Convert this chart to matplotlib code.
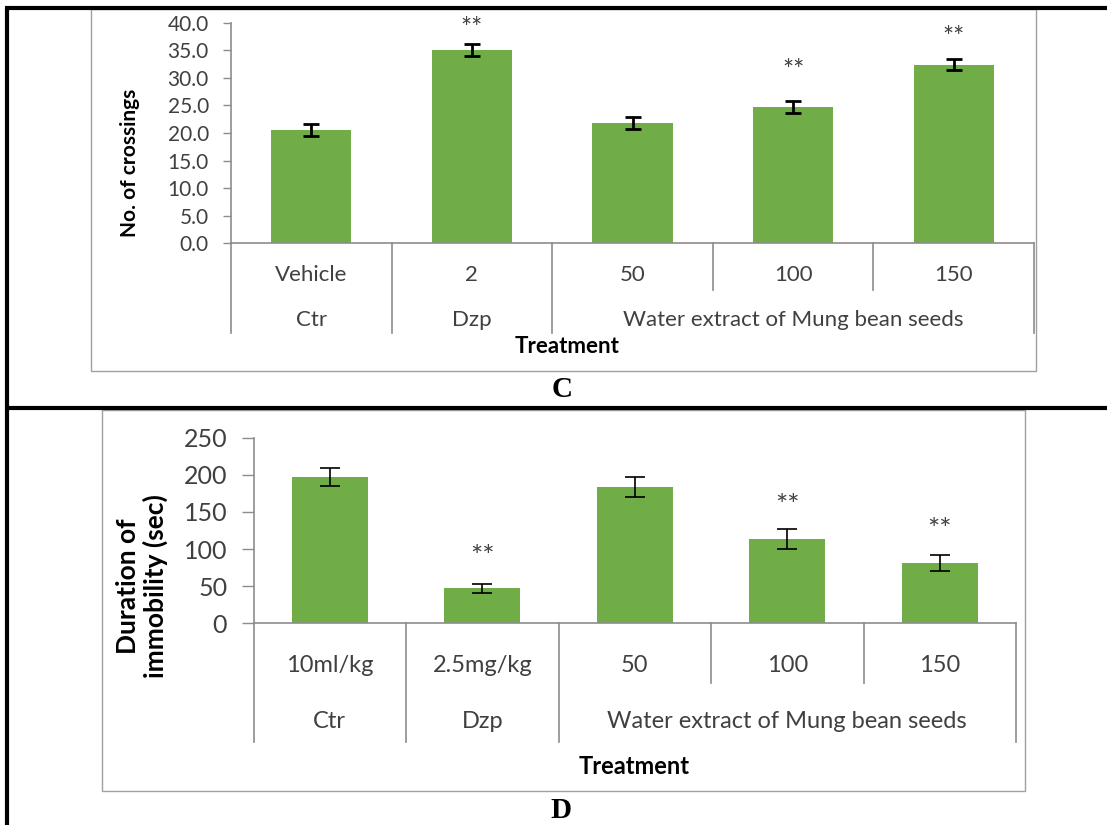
import matplotlib
matplotlib.use("Agg")
import matplotlib.pyplot as plt
from matplotlib.lines import Line2D
from matplotlib.patches import Rectangle

# data
doses_c = ["Vehicle", "2", "50", "100", "150"]
doses_d = ["10ml/kg", "2.5mg/kg", "50", "100", "150"]
groups = ["Ctr", "Dzp", "Water extract of Mung bean seeds"]
group_span = [(0, 0), (1, 1), (2, 4)]

crossings = [20.5, 35.0, 21.8, 24.7, 32.4]
crossings_err = [1.1, 1.1, 1.1, 1.1, 1.0]
immobility = [197.5, 47.1, 184.0, 113.0, 81.0]
immobility_err = [12.3, 6.0, 13.5, 13.5, 11.0]
stars = ["", "**", "", "**", "**"]

W, H = 1107, 825
GREEN = "#70AD47"
AXCOL = "#8C8C8C"
TXT = "#404040"
FONT = "Lato"

fig = plt.figure(figsize=(W / 100, H / 100), dpi=100)


def fx(x):
    return x / W


def fy(y):
    return 1 - y / H


def fig_line(x0, y0, x1, y1, color="black", lw=2.2):
    fig.add_artist(Line2D([fx(x0), fx(x1)], [fy(y0), fy(y1)], transform=fig.transFigure,
                          color=color, lw=lw, solid_capstyle="butt"))


def frame(x0, y0, x1, y1):
    fig.add_artist(Rectangle((fx(x0), fy(y1)), fx(x1) - fx(x0), fy(y0) - fy(y1),
                             transform=fig.transFigure, fill=False, ec="#A0A0A0", lw=1.0))


def panel(box, values, errs, ymax, ystep, fmt, doses, star_gap, rows, sizes, err_lw, err_cap):
    left, top, right, bottom = box
    ax = fig.add_axes([fx(left), fy(bottom), fx(right) - fx(left), fy(top) - fy(bottom)])
    axh = bottom - top
    x = list(range(len(values)))
    ax.bar(x, values, width=0.5, color=GREEN, zorder=2)
    ax.errorbar(x, values, yerr=errs, fmt="none", ecolor="black", elinewidth=err_lw,
                capsize=err_cap, capthick=err_lw, zorder=3)
    for i, s in enumerate(stars):
        if s:
            ax.text(i, values[i] + errs[i] + star_gap[i], s, ha="center", va="center",
                    fontsize=sizes["star"], color=TXT, family=FONT)
    ax.set_xlim(-0.5, len(values) - 0.5)
    ax.set_ylim(0, ymax)
    ticks = [ystep * k for k in range(int(round(ymax / ystep)) + 1)]
    ax.set_yticks(ticks)
    ax.set_yticklabels([fmt.format(t) for t in ticks], fontsize=sizes["tick"], color=TXT,
                       family=FONT)
    ax.tick_params(axis="y", length=sizes["ticklen"], color=AXCOL, pad=sizes["pad"], width=1)
    ax.set_xticks([])
    for side in ["top", "right"]:
        ax.spines[side].set_visible(False)
    ax.spines["left"].set_color(AXCOL)
    ax.spines["bottom"].set_color(AXCOL)
    ax.spines["left"].set_linewidth(1.2)
    ax.spines["bottom"].set_linewidth(1.2)

    # two-level category axis under the bars
    tr = ax.get_xaxis_transform()
    sub_d, grp_d, row1, row2 = [r / axh for r in rows]
    for b in [2.5, 3.5]:
        ax.plot([b, b], [0, -sub_d], transform=tr, color=AXCOL, lw=1.2, clip_on=False)
    for b in [-0.5, 0.5, 1.5, 4.5]:
        ax.plot([b, b], [0, -grp_d], transform=tr, color=AXCOL, lw=1.2, clip_on=False)
    for i, d in enumerate(doses):
        ax.text(i, -row1, d, transform=tr, ha="center", va="center", fontsize=sizes["cat"],
                color=TXT, family=FONT)
    for g, (a, b) in zip(groups, group_span):
        ax.text((a + b) / 2, -row2, g, transform=tr, ha="center", va="center",
                fontsize=sizes["cat"], color=TXT, family=FONT)
    return ax


# table lines around both panels
fig_line(5, 8, W, 8, lw=3)
fig_line(5, 408, W, 408, lw=3)
fig_line(7, 8, 7, H, lw=3)

# panel C
frame(91, 9, 1036, 371)
panel((231, 22.7, 1034, 243.3), crossings, crossings_err, 40, 5, "{:.1f}", doses_c,
      [2.6, 2.6, 2.6, 5.3, 3.7], (46.7, 90, 31.7, 76.7),
      {"star": 19, "tick": 15, "cat": 16, "ticklen": 6, "pad": 10}, 2.0, 6)
fig.text(fx(130), fy(163), "No. of crossings", rotation=90, ha="center", va="center",
         fontsize=15, fontweight="bold", family=FONT)
fig.text(fx(567), fy(346), "Treatment", ha="center", va="center", fontsize=16,
         fontweight="bold", family=FONT)
fig.text(fx(562), fy(390), "C", ha="center", va="center", fontsize=21,
         fontweight="bold", family="Liberation Serif")

# panel D
frame(102, 410, 1025, 791)
panel((253.6, 437.7, 1016, 623.3), immobility, immobility_err, 250, 50, "{:.0f}", doses_d,
      [35.0, 35.0, 35.0, 30.0, 33.0], (59.7, 118.7, 41.7, 98.7),
      {"star": 21, "tick": 18, "cat": 17, "ticklen": 9, "pad": 10}, 1.2, 7)
fig.text(fx(142), fy(586), "Duration of\nimmobility (sec)", rotation=90, ha="center",
         va="center", fontsize=19, fontweight="bold", family=FONT, linespacing=1.1)
fig.text(fx(634), fy(767), "Treatment", ha="center", va="center", fontsize=17,
         fontweight="bold", family=FONT)
fig.text(fx(561), fy(810), "D", ha="center", va="center", fontsize=21,
         fontweight="bold", family="Liberation Serif")

fig.savefig("out.png", dpi=100)
